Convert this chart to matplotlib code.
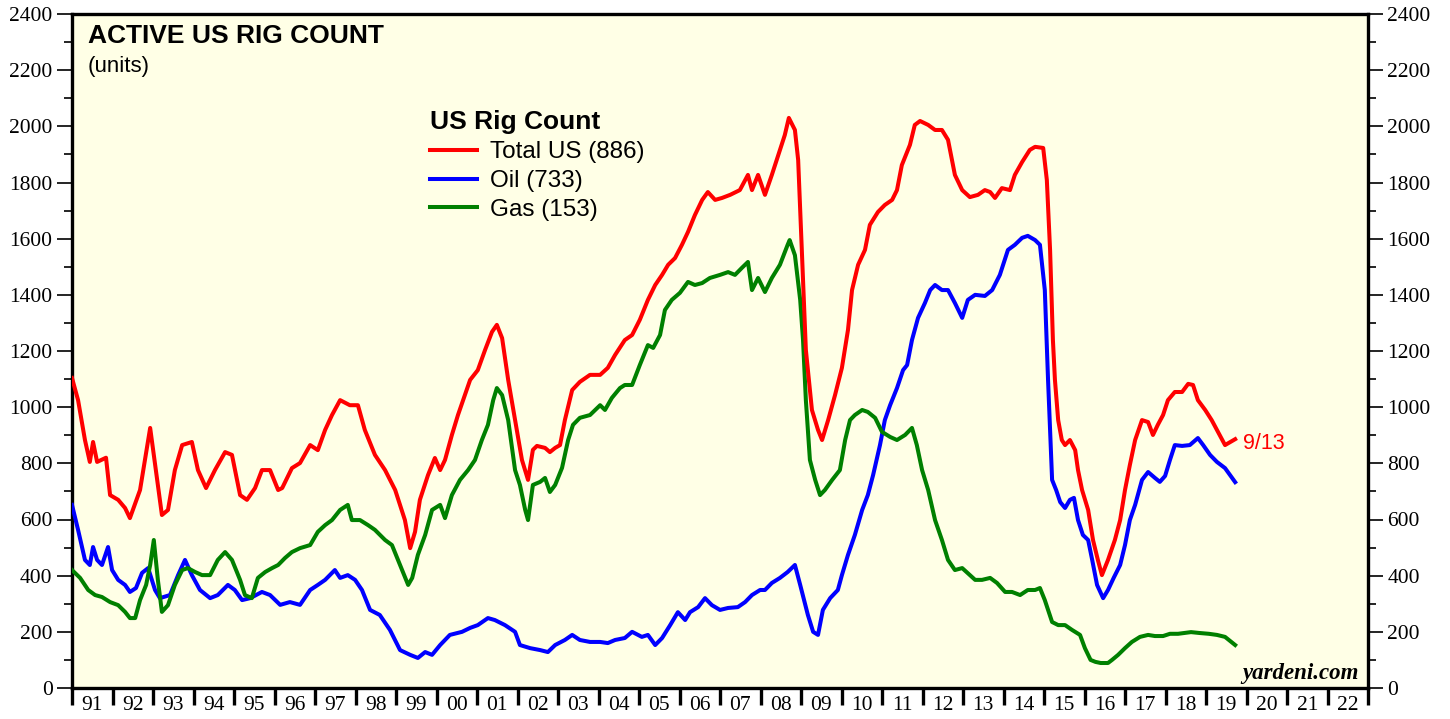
import numpy as np
import matplotlib
matplotlib.use("Agg")
import matplotlib.pyplot as plt
from matplotlib.ticker import MultipleLocator, FixedLocator, NullFormatter, FixedFormatter

plt.rcParams["font.family"] = ["Liberation Serif", "DejaVu Serif"]

# weekly rig counts (decimal year, units)
total_t = [1991.00, 1991.15, 1991.32, 1991.44, 1991.52, 1991.62, 1991.84, 1991.94, 1992.14, 1992.31,
           1992.43, 1992.68, 1992.93, 1993.07, 1993.22, 1993.37, 1993.54, 1993.72, 1993.96, 1994.11,
           1994.31, 1994.53, 1994.78, 1994.95, 1995.15, 1995.32, 1995.52, 1995.69, 1995.89, 1996.09,
           1996.19, 1996.43, 1996.63, 1996.88, 1997.07, 1997.25, 1997.42, 1997.62, 1997.86, 1998.06,
           1998.23, 1998.48, 1998.73, 1998.98, 1999.22, 1999.35, 1999.47, 1999.59, 1999.79, 1999.96,
           2000.09, 2000.21, 2000.38, 2000.53, 2000.70, 2000.83, 2001.02, 2001.20, 2001.37, 2001.49,
           2001.62, 2001.77, 2001.94, 2002.11, 2002.26, 2002.38, 2002.48, 2002.68, 2002.80, 2002.93,
           2003.05, 2003.17, 2003.35, 2003.54, 2003.79, 2004.04, 2004.23, 2004.41, 2004.65, 2004.83,
           2005.02, 2005.22, 2005.40, 2005.57, 2005.72, 2005.89, 2006.06, 2006.21, 2006.38, 2006.56,
           2006.70, 2006.88, 2007.05, 2007.25, 2007.49, 2007.69, 2007.79, 2007.94, 2008.11, 2008.28,
           2008.48, 2008.60, 2008.70, 2008.85, 2008.93, 2009.02, 2009.12, 2009.27, 2009.42, 2009.52,
           2009.67, 2009.84, 2010.01, 2010.16, 2010.26, 2010.41, 2010.58, 2010.70, 2010.90, 2011.07,
           2011.25, 2011.37, 2011.49, 2011.69, 2011.81, 2011.94, 2012.14, 2012.31, 2012.48, 2012.63,
           2012.80, 2012.98, 2013.17, 2013.37, 2013.54, 2013.67, 2013.79, 2013.96, 2014.16, 2014.28,
           2014.46, 2014.65, 2014.78, 2014.98, 2015.07, 2015.15, 2015.22, 2015.27, 2015.35, 2015.44,
           2015.52, 2015.64, 2015.77, 2015.84, 2015.94, 2016.09, 2016.21, 2016.33, 2016.43, 2016.58,
           2016.75, 2016.88, 2017.00, 2017.12, 2017.25, 2017.42, 2017.57, 2017.69, 2017.81, 2017.94,
           2018.06, 2018.23, 2018.41, 2018.56, 2018.68, 2018.80, 2018.98, 2019.14, 2019.30, 2019.47,
           2019.72]
total_v = [1104, 1025, 883, 805, 876, 805, 820, 687, 670, 641,
           605, 705, 926, 776, 616, 634, 776, 865, 876, 776,
           712, 776, 840, 830, 687, 670, 712, 776, 776, 705,
           712, 783, 801, 865, 847, 919, 972, 1025, 1007, 1007,
           919, 830, 776, 705, 598, 498, 556, 670, 758, 819,
           776, 812, 901, 972, 1043, 1097, 1132, 1204, 1268, 1293,
           1246, 1097, 954, 812, 741, 848, 862, 855, 840, 855,
           865, 954, 1061, 1090, 1115, 1115, 1140, 1186, 1239, 1257,
           1311, 1382, 1435, 1471, 1507, 1531, 1578, 1624, 1684, 1738,
           1766, 1738, 1745, 1756, 1773, 1827, 1773, 1827, 1756, 1827,
           1916, 1969, 2030, 1987, 1880, 1560, 1204, 990, 919, 883,
           954, 1043, 1140, 1275, 1417, 1507, 1560, 1649, 1695, 1720,
           1738, 1773, 1862, 1934, 2005, 2019, 2005, 1987, 1987, 1952,
           1827, 1773, 1748, 1756, 1773, 1766, 1745, 1780, 1773, 1827,
           1873, 1916, 1927, 1923, 1809, 1560, 1239, 1097, 954, 883,
           865, 883, 847, 776, 705, 634, 527, 456, 402, 456,
           527, 598, 705, 794, 883, 954, 947, 901, 937, 972,
           1025, 1054, 1054, 1083, 1079, 1025, 990, 954, 911, 865,
           886]

oil_t = [1991.00, 1991.15, 1991.32, 1991.44, 1991.52, 1991.62, 1991.74, 1991.89, 1991.99, 1992.14,
         1992.31, 1992.43, 1992.58, 1992.73, 1992.88, 1993.05, 1993.17, 1993.42, 1993.62, 1993.79,
         1993.96, 1994.16, 1994.41, 1994.60, 1994.85, 1995.02, 1995.20, 1995.40, 1995.69, 1995.89,
         1996.14, 1996.38, 1996.63, 1996.88, 1997.07, 1997.25, 1997.49, 1997.62, 1997.81, 1997.99,
         1998.16, 1998.36, 1998.60, 1998.85, 1999.10, 1999.35, 1999.54, 1999.72, 1999.89, 2000.09,
         2000.33, 2000.63, 2000.83, 2001.02, 2001.27, 2001.44, 2001.69, 2001.94, 2002.06, 2002.31,
         2002.56, 2002.75, 2002.93, 2003.17, 2003.35, 2003.54, 2003.79, 2004.04, 2004.23, 2004.41,
         2004.65, 2004.83, 2005.07, 2005.22, 2005.40, 2005.57, 2005.77, 2005.96, 2006.14, 2006.26,
         2006.46, 2006.63, 2006.80, 2007.00, 2007.20, 2007.44, 2007.62, 2007.79, 2007.99, 2008.11,
         2008.28, 2008.48, 2008.67, 2008.85, 2008.98, 2009.17, 2009.30, 2009.42, 2009.54, 2009.72,
         2009.91, 2010.01, 2010.16, 2010.33, 2010.51, 2010.65, 2010.78, 2010.95, 2011.07, 2011.20,
         2011.37, 2011.52, 2011.62, 2011.74, 2011.89, 2012.06, 2012.19, 2012.31, 2012.48, 2012.63,
         2012.80, 2012.98, 2013.12, 2013.30, 2013.54, 2013.72, 2013.91, 2014.11, 2014.28, 2014.46,
         2014.60, 2014.78, 2014.90, 2015.02, 2015.10, 2015.20, 2015.30, 2015.40, 2015.52, 2015.64,
         2015.74, 2015.84, 2015.96, 2016.09, 2016.19, 2016.31, 2016.46, 2016.58, 2016.72, 2016.88,
         2017.00, 2017.12, 2017.25, 2017.42, 2017.57, 2017.74, 2017.86, 2017.99, 2018.11, 2018.23,
         2018.41, 2018.60, 2018.80, 2018.93, 2019.10, 2019.27, 2019.47, 2019.72]
oil_v = [652, 563, 456, 438, 502, 456, 438, 502, 420, 385,
         367, 342, 356, 410, 427, 349, 320, 331, 402, 456,
         402, 349, 320, 331, 367, 349, 313, 320, 342, 331,
         296, 306, 296, 349, 367, 385, 420, 392, 402, 385,
         349, 278, 260, 207, 135, 118, 107, 128, 118, 153,
         189, 200, 214, 224, 249, 242, 224, 200, 153, 142,
         135, 128, 153, 171, 189, 171, 164, 164, 160, 171,
         178, 200, 182, 189, 153, 178, 224, 270, 242, 270,
         288, 320, 295, 278, 285, 288, 306, 331, 349, 349,
         374, 392, 413, 438, 367, 260, 200, 189, 278, 320,
         349, 402, 474, 545, 634, 687, 758, 865, 954, 1007,
         1068, 1132, 1150, 1239, 1318, 1371, 1417, 1435, 1417, 1417,
         1371, 1318, 1382, 1400, 1396, 1417, 1471, 1560, 1578, 1603,
         1610, 1595, 1578, 1417, 1097, 741, 705, 662, 641, 670,
         677, 598, 545, 527, 456, 367, 320, 349, 392, 438,
         509, 598, 652, 741, 769, 748, 734, 755, 812, 865,
         862, 865, 890, 865, 830, 805, 783, 733]

gas_t = [1991.00, 1991.20, 1991.40, 1991.57, 1991.74, 1991.94, 1992.14, 1992.31, 1992.43, 1992.56,
         1992.68, 1992.83, 1992.93, 1993.02, 1993.12, 1993.22, 1993.37, 1993.54, 1993.72, 1993.86,
         1994.04, 1994.21, 1994.41, 1994.60, 1994.78, 1994.95, 1995.15, 1995.27, 1995.44, 1995.59,
         1995.77, 1995.94, 1996.09, 1996.26, 1996.43, 1996.63, 1996.88, 1997.07, 1997.25, 1997.42,
         1997.62, 1997.81, 1997.91, 1998.11, 1998.31, 1998.48, 1998.73, 1998.90, 1999.10, 1999.30,
         1999.40, 1999.54, 1999.72, 1999.89, 2000.09, 2000.21, 2000.38, 2000.58, 2000.78, 2000.95,
         2001.12, 2001.27, 2001.40, 2001.49, 2001.62, 2001.77, 2001.94, 2002.06, 2002.19, 2002.26,
         2002.38, 2002.56, 2002.68, 2002.80, 2002.93, 2003.10, 2003.25, 2003.37, 2003.54, 2003.79,
         2004.04, 2004.16, 2004.33, 2004.53, 2004.65, 2004.83, 2005.02, 2005.22, 2005.35, 2005.52,
         2005.64, 2005.81, 2006.01, 2006.21, 2006.38, 2006.56, 2006.75, 2007.00, 2007.20, 2007.37,
         2007.54, 2007.69, 2007.79, 2007.94, 2008.11, 2008.28, 2008.48, 2008.67, 2008.72, 2008.85,
         2008.98, 2009.05, 2009.12, 2009.22, 2009.35, 2009.47, 2009.59, 2009.77, 2009.96, 2010.09,
         2010.21, 2010.33, 2010.51, 2010.65, 2010.83, 2011.00, 2011.20, 2011.37, 2011.57, 2011.74,
         2011.86, 2011.99, 2012.14, 2012.31, 2012.48, 2012.63, 2012.80, 2012.98, 2013.17, 2013.30,
         2013.47, 2013.67, 2013.84, 2014.04, 2014.21, 2014.41, 2014.60, 2014.78, 2014.90, 2015.02,
         2015.20, 2015.35, 2015.52, 2015.69, 2015.89, 2016.01, 2016.15, 2016.27, 2016.40, 2016.58,
         2016.68, 2016.83, 2017.00, 2017.17, 2017.37, 2017.57, 2017.74, 2017.94, 2018.11, 2018.31,
         2018.48, 2018.63, 2018.83, 2019.07, 2019.27, 2019.47, 2019.72]
gas_v = [420, 392, 349, 331, 324, 306, 295, 271, 249, 249,
         313, 367, 438, 527, 385, 271, 295, 367, 420, 427,
         413, 402, 402, 456, 484, 456, 385, 331, 320, 392,
         413, 427, 438, 463, 484, 498, 509, 556, 580, 598,
         634, 652, 598, 598, 580, 563, 527, 509, 438, 367,
         392, 474, 545, 634, 652, 605, 687, 741, 776, 812,
         883, 937, 1025, 1068, 1043, 954, 776, 723, 634, 598,
         723, 734, 748, 698, 723, 784, 883, 937, 962, 972,
         1007, 990, 1033, 1068, 1079, 1079, 1150, 1221, 1211, 1257,
         1346, 1382, 1407, 1446, 1435, 1442, 1460, 1471, 1481, 1471,
         1496, 1517, 1417, 1460, 1410, 1460, 1507, 1578, 1595, 1541,
         1382, 1239, 1025, 812, 741, 687, 705, 741, 776, 883,
         954, 972, 990, 983, 962, 912, 894, 883, 901, 926,
         865, 776, 705, 598, 527, 456, 420, 427, 402, 385,
         385, 392, 374, 342, 342, 331, 349, 349, 356, 313,
         235, 224, 224, 207, 189, 142, 100, 93, 89, 89,
         100, 118, 142, 164, 182, 189, 185, 185, 193, 193,
         196, 199, 196, 193, 189, 182, 153]

year_labels = ["91", "92", "93", "94", "95", "96", "97", "98", "99", "00", "01",
               "02", "03", "04", "05", "06", "07", "08", "09", "10", "11", "12",
               "13", "14", "15", "16", "17", "18", "19", "20", "21", "22"]
series_labels = ["Total US (886)", "Oil (733)", "Gas (153)"]
last_date = "9/13"

fig = plt.figure(figsize=(14.5, 7.19), dpi=100)
ax = fig.add_axes([72 / 1450, 1 - 688 / 719, 1296 / 1450, 674 / 719])
ax.set_facecolor("#FFFFE6")

lw = 2.9
l_oil, = ax.plot(oil_t, oil_v, color="#0000FF", lw=lw, solid_joinstyle="round", zorder=3)
l_gas, = ax.plot(gas_t, gas_v, color="#008000", lw=lw, solid_joinstyle="round", zorder=4)
l_tot, = ax.plot(total_t, total_v, color="#FF0000", lw=lw, solid_joinstyle="round", zorder=5)

ax.set_xlim(1991, 2023)
ax.set_ylim(0, 2400)

for s in ax.spines.values():
    s.set_linewidth(2.4)

serif = "Liberation Serif"
sans = "Liberation Sans"

# y axis: labels on both sides
ax.yaxis.set_major_locator(MultipleLocator(200))
ax.yaxis.set_minor_locator(MultipleLocator(100))
ax.tick_params(axis="y", which="both", direction="out", left=True, right=True,
               labelleft=True, labelright=True, width=1.2, labelsize=15.5,
               labelfontfamily=serif, pad=3)
ax.tick_params(axis="y", which="major", length=11)
ax.tick_params(axis="y", which="minor", length=6)

# x axis: ticks at year boundaries, labels mid-year
years = np.arange(1991, 2024)
ax.xaxis.set_major_locator(FixedLocator(years))
ax.xaxis.set_major_formatter(NullFormatter())
ax.xaxis.set_minor_locator(FixedLocator(years[:-1] + 0.5))
ax.xaxis.set_minor_formatter(FixedFormatter(year_labels))
ax.tick_params(axis="x", which="major", direction="out", length=12, width=2.4)
ax.tick_params(axis="x", which="minor", length=0, labelsize=15.5, labelfontfamily=serif, pad=6)

ax.text(0.012, 0.967, "ACTIVE US RIG COUNT", transform=ax.transAxes, family=sans,
        fontsize=19, fontweight="bold", va="center", ha="left")
ax.text(0.012, 0.922, "(units)", transform=ax.transAxes, family=sans,
        fontsize=16, va="center", ha="left")

leg = ax.legend([l_tot, l_oil, l_gas], series_labels, loc="upper left",
                bbox_to_anchor=(0.2765, 0.857), frameon=False, title="US Rig Count",
                alignment="left", prop={"family": sans, "size": 17.5},
                title_fontproperties={"family": sans, "size": 19, "weight": "bold"},
                handlelength=1.9, handletextpad=0.55, labelspacing=0.28, borderpad=0,
                borderaxespad=0)

ax.annotate(last_date, xy=(total_t[-1], total_v[-1]), xytext=(6, -3), textcoords="offset points",
            color="#FF0000", family=sans, fontsize=15.5, va="center", ha="left")

ax.text(0.993, 0.013, "yardeni.com", transform=ax.transAxes, family=serif,
        fontsize=16.5, fontweight="bold", style="italic", ha="right", va="baseline")

fig.savefig("out.png", dpi=100)
